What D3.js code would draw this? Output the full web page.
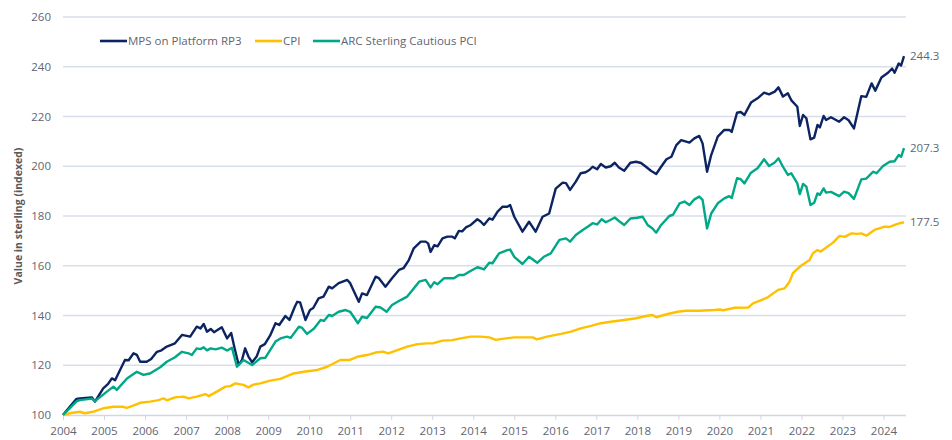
<!DOCTYPE html>
<html>
<head>
<meta charset="utf-8">
<script src="https://cdn.jsdelivr.net/npm/d3@7"></script>
<style>
  body { margin: 0; background: #fff; }
  svg { display: block; font-family: "Open Sans", "Noto Sans", sans-serif; }
</style>
</head>
<body>
<svg id="chart" width="952" height="440"></svg>
<script>
// [year, value] pairs
const mps = [
  [2004.00,100],[2004.15,103],[2004.33,106.5],[2004.41,106.7],[2004.70,107.1],[2004.78,105.4],
  [2004.98,110.7],[2005.10,112.5],[2005.19,114.7],[2005.27,114.0],[2005.51,122.1],[2005.60,122.0],
  [2005.72,124.8],[2005.80,124.2],[2005.88,121.4],[2006.04,121.4],[2006.15,122.5],[2006.29,125.4],
  [2006.40,126.0],[2006.53,127.5],[2006.73,128.8],[2006.90,132.2],[2007.10,131.5],[2007.26,135.5],
  [2007.35,134.8],[2007.43,136.6],[2007.51,133.5],[2007.60,134.6],[2007.68,133.3],[2007.87,135.3],
  [2008.00,130.8],[2008.10,133],[2008.18,127],[2008.28,120.2],[2008.36,122],[2008.44,126.8],
  [2008.52,123.5],[2008.61,121.2],[2008.72,123.5],[2008.81,127.5],[2008.92,128.5],[2009.05,132],
  [2009.18,136.9],[2009.27,136.2],[2009.42,139.8],[2009.52,138.2],[2009.65,143.5],[2009.71,145.5],
  [2009.78,145.3],[2009.91,138.2],[2010.02,142.2],[2010.10,143.0],[2010.23,146.9],[2010.35,147.6],
  [2010.48,151.6],[2010.56,150.9],[2010.72,153],[2010.93,154.3],[2011.00,153],[2011.21,145.5],
  [2011.29,148.9],[2011.41,148.2],[2011.62,155.6],[2011.70,155],[2011.86,151.6],[2012.02,155],
  [2012.19,158.3],[2012.30,159],[2012.43,162.3],[2012.55,167],[2012.72,169.7],[2012.84,169.7],
  [2012.90,169],[2012.96,165.6],[2013.05,168.3],[2013.13,167.8],[2013.25,171],[2013.37,171.7],
  [2013.49,171.7],[2013.55,171],[2013.65,174],[2013.73,173.8],[2013.82,175.4],[2013.94,176.4],
  [2014.10,178.7],[2014.18,177.8],[2014.26,176.4],[2014.39,179],[2014.47,178.5],[2014.59,181.7],
  [2014.71,183.7],[2014.83,183.7],[2014.90,184.4],[2015.00,179.7],[2015.20,173.7],[2015.36,177.7],
  [2015.52,173.7],[2015.69,179.7],[2015.85,181],[2016.01,191],[2016.18,193.4],[2016.26,193.2],
  [2016.36,190.5],[2016.50,193.8],[2016.62,197.2],[2016.74,197.6],[2016.83,198.5],[2016.91,199.8],
  [2017.02,198.8],[2017.11,200.9],[2017.23,199.5],[2017.35,200],[2017.45,201.4],[2017.55,199.5],
  [2017.68,198.2],[2017.83,201.4],[2017.97,201.8],[2018.09,201.3],[2018.21,199.8],[2018.33,198.2],
  [2018.46,196.9],[2018.58,199.8],[2018.71,202.8],[2018.83,203.8],[2018.95,208.5],[2019.07,210.5],
  [2019.27,209.5],[2019.39,211.2],[2019.51,212.2],[2019.59,209.2],[2019.70,197.8],[2019.80,204.5],
  [2019.96,211.9],[2020.12,214.6],[2020.24,214.6],[2020.30,213.8],[2020.43,221.5],[2020.52,221.8],
  [2020.61,220.6],[2020.77,225.6],[2020.93,227.3],[2021.09,229.6],[2021.21,228.9],[2021.35,230],
  [2021.44,231.7],[2021.55,228],[2021.67,229.3],[2021.75,226.6],[2021.90,223.9],[2021.96,216.2],
  [2022.04,220.6],[2022.12,219.3],[2022.22,210.8],[2022.31,211.5],[2022.39,216.6],[2022.45,215.6],
  [2022.54,220.2],[2022.60,218.6],[2022.72,219.7],[2022.92,217.9],[2023.04,219.7],[2023.15,218.5],
  [2023.28,215.2],[2023.46,228.2],[2023.58,227.9],[2023.71,233.3],[2023.80,230.4],[2023.95,235.7],
  [2024.11,237.6],[2024.21,239.3],[2024.27,237.6],[2024.37,241.3],[2024.43,240.5],[2024.50,244.3]
];

const cpi = [
  [2004.00,100],[2004.20,100.8],[2004.41,101.3],[2004.53,100.7],[2004.73,101.3],[2004.98,102.7],
  [2005.23,103.3],[2005.47,103.3],[2005.55,102.9],[2005.68,103.6],[2005.88,104.9],[2006.12,105.4],
  [2006.33,106],[2006.45,106.7],[2006.53,105.9],[2006.73,107.1],[2006.94,107.4],[2007.06,106.7],
  [2007.26,107.4],[2007.47,108.4],[2007.55,107.6],[2007.75,109.4],[2007.96,111.4],[2008.08,111.6],
  [2008.20,112.7],[2008.40,112.1],[2008.52,111.1],[2008.64,112.2],[2008.81,112.7],[2009.05,113.8],
  [2009.30,114.5],[2009.62,116.7],[2009.87,117.4],[2010.20,118.1],[2010.44,119.4],[2010.76,122.1],
  [2010.98,122.1],[2011.17,123.4],[2011.41,124.1],[2011.62,125.1],[2011.80,125.5],[2011.93,124.8],
  [2012.15,126.1],[2012.39,127.5],[2012.64,128.5],[2012.88,128.8],[2013.01,128.8],[2013.25,129.9],
  [2013.49,130.1],[2013.69,130.8],[2013.94,131.5],[2014.18,131.5],[2014.39,131.2],[2014.55,130.2],
  [2014.75,130.7],[2015.00,131.2],[2015.25,131.2],[2015.45,131.2],[2015.55,130.4],[2015.80,131.5],
  [2016.14,132.6],[2016.38,133.5],[2016.62,134.8],[2016.87,135.8],[2017.11,136.9],[2017.35,137.5],
  [2017.68,138.2],[2017.97,138.9],[2018.21,139.8],[2018.37,140.2],[2018.46,139.3],[2018.74,140.6],
  [2018.98,141.5],[2019.18,141.9],[2019.51,141.9],[2019.88,142.2],[2020.00,142.4],[2020.10,142.1],
  [2020.37,143.1],[2020.70,143.2],[2020.82,144.9],[2021.02,146.2],[2021.18,147.3],[2021.43,150.3],
  [2021.59,150.9],[2021.71,153.6],[2021.79,157],[2021.99,160],[2022.20,162.3],[2022.28,165],
  [2022.39,166.3],[2022.47,165.7],[2022.77,169.3],[2022.93,172],[2023.05,171.6],[2023.22,173],
  [2023.36,172.8],[2023.46,173],[2023.58,172.1],[2023.78,174.4],[2024.03,175.7],[2024.15,175.6],
  [2024.34,176.8],[2024.50,177.5]
];

const arc = [
  [2004.00,100],[2004.15,102.5],[2004.33,105.5],[2004.41,106],[2004.70,106.6],[2004.78,105.6],
  [2005.07,109.4],[2005.23,111.4],[2005.31,110.1],[2005.56,114.7],[2005.80,117.4],[2005.96,116.1],
  [2006.12,116.7],[2006.37,119.2],[2006.53,121.4],[2006.73,123.2],[2006.90,125.4],[2007.06,124.8],
  [2007.14,124.1],[2007.26,126.8],[2007.35,126.5],[2007.43,127.2],[2007.51,126],[2007.60,126.8],
  [2007.72,126.4],[2007.87,127.1],[2008.00,125.9],[2008.12,127],[2008.24,119.4],[2008.40,122.1],
  [2008.61,120.1],[2008.81,122.8],[2008.93,123],[2009.05,126.1],[2009.18,129.5],[2009.30,130.8],
  [2009.46,131.5],[2009.55,131],[2009.75,135.5],[2009.83,135],[2009.95,132.6],[2010.12,134.8],
  [2010.28,138.2],[2010.36,137.8],[2010.48,140.2],[2010.56,139.8],[2010.72,141.5],[2010.89,142.2],
  [2011.00,141.5],[2011.19,136.9],[2011.29,139.5],[2011.41,139],[2011.62,143.5],[2011.74,143.2],
  [2011.89,141.5],[2012.02,144.2],[2012.23,146.2],[2012.39,147.6],[2012.52,150.3],[2012.68,153.6],
  [2012.84,154.3],[2012.96,151.3],[2013.05,153.4],[2013.13,152.6],[2013.29,155],[2013.41,155],
  [2013.53,155],[2013.65,156.3],[2013.77,156.3],[2013.90,157.6],[2014.10,159.4],[2014.18,159],
  [2014.26,158.5],[2014.39,161.2],[2014.47,161],[2014.63,165],[2014.83,166.3],[2014.90,166.5],
  [2015.00,163.6],[2015.20,160.7],[2015.36,163.6],[2015.56,161.2],[2015.72,163.6],[2015.89,165],
  [2016.10,170.4],[2016.26,171],[2016.36,169.7],[2016.50,172.4],[2016.67,174.4],[2016.79,175.7],
  [2016.91,177.1],[2017.02,176.6],[2017.13,178.7],[2017.23,177.5],[2017.33,178.3],[2017.45,179.4],
  [2017.55,178],[2017.68,176.4],[2017.83,179],[2017.99,179.3],[2018.13,179.7],[2018.25,176.4],
  [2018.37,175],[2018.46,173.3],[2018.58,176.4],[2018.78,180],[2018.87,180.5],[2019.03,185.1],
  [2019.15,185.8],[2019.27,184.4],[2019.39,186.7],[2019.51,187.8],[2019.59,186.5],[2019.70,175],
  [2019.80,181],[2019.96,185.1],[2020.12,187.1],[2020.24,188],[2020.30,187.2],[2020.43,195.2],
  [2020.52,194.8],[2020.61,193.1],[2020.77,197.4],[2020.93,199.2],[2021.09,202.8],[2021.21,200.1],
  [2021.35,201.5],[2021.44,203.2],[2021.55,199.8],[2021.67,196.5],[2021.75,197.2],[2021.90,193.1],
  [2021.96,188.8],[2022.04,192.9],[2022.12,191.8],[2022.22,184.4],[2022.31,185.3],[2022.39,189.1],
  [2022.45,188.5],[2022.54,191.1],[2022.60,189.4],[2022.72,189.7],[2022.92,188],[2023.04,189.8],
  [2023.15,189.2],[2023.28,186.9],[2023.46,194.7],[2023.58,195],[2023.75,197.8],[2023.83,197.2],
  [2023.99,200.1],[2024.15,201.8],[2024.27,202],[2024.37,204.5],[2024.43,203.8],[2024.50,207.3]
];

const years = d3.range(2004, 2025);
const yTicks = [100, 120, 140, 160, 180, 200, 220, 240, 260];

const series = [
  { name: 'MPS on Platform RP3', data: mps, color: '#0C2461' },
  { name: 'CPI', data: cpi, color: '#FFC000' },
  { name: 'ARC Sterling Cautious PCI', data: arc, color: '#00A887' }
];

const svg = d3.select('#chart');
const plotLeft = 63, plotRight = 904, plotTop = 17, plotBottom = 415;
const textColor = '#5F6573';

const x = d3.scaleLinear().domain([2004, 2024.5]).range([plotLeft, plotRight]);
const y = d3.scaleLinear().domain([100, 260]).range([plotBottom, plotTop]);

// Gridlines
svg.append('g')
  .selectAll('line')
  .data(yTicks.filter(d => d > 100))
  .join('line')
  .attr('x1', plotLeft).attr('x2', plotRight + 2)
  .attr('y1', d => y(d)).attr('y2', d => y(d))
  .attr('stroke', '#D9DFEA')
  .attr('stroke-width', 1.3);

// Y axis labels
svg.append('g')
  .selectAll('text')
  .data(yTicks)
  .join('text')
  .attr('x', 51)
  .attr('y', d => y(d))
  .attr('dy', '0.35em')
  .attr('text-anchor', 'end')
  .attr('font-size', 11.5)
  .attr('fill', textColor)
  .text(d => d);

// X axis
const xAxis = svg.append('g')
  .attr('transform', `translate(0,${plotBottom})`)
  .call(d3.axisBottom(x).tickValues(years).tickFormat(d3.format('d')).tickSize(5).tickPadding(7));
xAxis.select('.domain')
  .attr('d', `M${plotLeft},0.5H${plotRight + 2}`)
  .attr('stroke', '#D0D7E4').attr('stroke-width', 1.3);
xAxis.selectAll('.tick line').attr('stroke', '#D0D7E4');
xAxis.selectAll('.tick text')
  .attr('font-size', 11.5)
  .attr('font-family', '"Open Sans", sans-serif')
  .attr('fill', textColor);

// Y axis title
svg.append('text')
  .attr('transform', `translate(18,${(plotTop + plotBottom) / 2}) rotate(-90)`)
  .attr('text-anchor', 'middle')
  .attr('dy', '0.35em')
  .attr('font-size', 10.5)
  .attr('font-weight', 'bold')
  .attr('fill', '#595959')
  .text('Value in sterling (indexed)');

// Lines
const line = d3.line().x(d => x(d[0])).y(d => y(d[1]));
svg.append('g')
  .selectAll('path')
  .data(series)
  .join('path')
  .attr('fill', 'none')
  .attr('stroke', d => d.color)
  .attr('stroke-width', 2.4)
  .attr('stroke-linejoin', 'round')
  .attr('d', d => line(d.data));

// End labels
svg.append('g')
  .selectAll('text')
  .data(series)
  .join('text')
  .attr('x', plotRight + 6)
  .attr('y', d => y(d.data[d.data.length - 1][1]))
  .attr('dy', '0.35em')
  .attr('font-size', 11.5)
  .attr('fill', textColor)
  .text(d => d3.format('.1f')(d.data[d.data.length - 1][1]));

// Legend
const legendX = [100, 255, 313];
const legend = svg.append('g')
  .selectAll('g')
  .data(series)
  .join('g')
  .attr('transform', (d, i) => `translate(${legendX[i]},41)`);
legend.append('line')
  .attr('x1', 0).attr('x2', 27)
  .attr('stroke', d => d.color)
  .attr('stroke-width', 2.6);
legend.append('text')
  .attr('x', 28)
  .attr('dy', '0.35em')
  .attr('font-size', 11.5)
  .attr('fill', textColor)
  .text(d => d.name);
</script>
</body>
</html>
